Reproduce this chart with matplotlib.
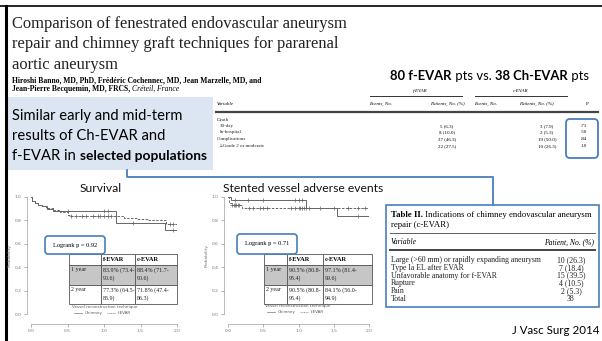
"""
Slide: f-EVAR vs chimney EVAR (J Vasc Surg 2014)
"""

import numpy as np
import matplotlib
matplotlib.use('Agg')
import matplotlib.pyplot as plt
from matplotlib.patches import Rectangle, FancyBboxPatch

# ---- data ----
title_lines = ['Comparison of fenestrated endovascular aneurysm',
               'repair and chimney graft techniques for pararenal',
               'aortic aneurysm']
author_lines = ['Hiroshi Banno, MD, PhD, Frédéric Cochennec, MD, Jean Marzelle, MD, and',
                'Jean-Pierre Becquemin, MD, FRCS,']
author_place = 'Créteil, France'

outcome_labels = ['Death', '30-day', 'In-hospital', 'Complications', '≥Grade 2 or moderate']
outcome_indent = [0, 1, 1, 0, 1]
fevar_patients = ['', '5 (6.3)', '8 (10.0)', '', '37 (46.3)', '22 (27.5)']
cevar_patients = ['', '3 (7.9)', '2 (5.3)', '', '19 (50.0)', '10 (26.3)']
p_values = ['', '.71', '.50', '', '.84', '1.0']

indication_labels = ['Large (>60 mm) or rapidly expanding aneurysm', 'Type Ia EL after EVAR',
                     'Unfavorable anatomy for f-EVAR', 'Rupture', 'Pain', 'Total']
indication_values = ['10 (26.3)', '7 (18.4)', '15 (39.5)', '4 (10.5)', '2 (5.3)', '38']

# survival (Kaplan-Meier step points)
surv_chimney_t = [0, 0.02, 0.05, 0.1, 0.15, 0.22, 0.3, 1.17, 1.84, 2.0]
surv_chimney_p = [1.0, 0.97, 0.95, 0.93, 0.92, 0.90, 0.884, 0.78, 0.718, 0.718]
surv_chimney_cens = [0.5, 1.0, 1.05, 1.4, 1.95]
surv_fevar_t = [0, 0.02, 0.05, 0.1, 0.15, 0.2, 0.3, 0.4, 0.5, 0.55, 1.27, 1.45, 1.6, 1.85, 2.0]
surv_fevar_p = [1.0, 0.97, 0.95, 0.935, 0.92, 0.905, 0.89, 0.87, 0.85, 0.839, 0.82, 0.81, 0.80, 0.773, 0.773]
surv_fevar_cens = [0.55, 0.62, 0.7, 0.75, 0.85, 0.92, 0.95, 1.0, 1.05, 1.1, 1.9, 1.95]

# stented vessel adverse events
stent_chimney_t = [0, 0.04, 1.1, 1.55, 2.0]
stent_chimney_p = [1.0, 0.971, 0.91, 0.841, 0.841]
stent_chimney_cens = [0.1, 0.28, 0.5, 0.95, 1.0, 1.05, 1.85]
stent_fevar_t = [0, 0.02, 0.05, 0.2, 2.0]
stent_fevar_p = [1.0, 0.95, 0.93, 0.905, 0.905]
stent_fevar_cens = [0.06, 0.08, 0.1, 0.12, 0.14, 0.16, 0.3, 0.35, 0.45, 0.5, 0.55,
                    0.9, 0.95, 1.0, 1.02, 1.05, 1.08, 1.1, 1.15, 1.3, 1.5, 1.7, 1.85, 1.95]

km_rows = ['1 year', '2 year']
surv_fevar_cells = ['83.9% (73.4-\n90.6)', '77.3% (64.5-\n85.9)']
surv_cevar_cells = ['88.4% (71.7-\n90.6)', '71.8% (47.4-\n86.3)']
stent_fevar_cells = ['90.5% (80.8-\n95.4)', '90.5% (80.8-\n95.4)']
stent_cevar_cells = ['97.1% (81.4-\n99.6)', '84.1% (56.0-\n94.9)']

km_xticks = [0.0, 0.5, 1.0, 1.5, 2.0]
km_yticks = [0.0, 0.2, 0.4, 0.6, 0.8, 1.0]

W, H = 602, 341
BLUE = '#4a7ebb'
SERIF = 'Liberation Serif'
SANS = 'Lato'
TS = 3.6   # small journal table text

fig = plt.figure(figsize=(W / 100, H / 100), dpi=100)
bg = fig.add_axes([0, 0, 1, 1])
bg.set_xlim(0, W)
bg.set_ylim(H, 0)
bg.axis('off')


def rich_text(ax, x, y, parts, **kw):
    """parts: list of (text, weight, style, size); all pieces share baseline y"""
    prev = None
    for s, w, st, sz in parts:
        if prev is None:
            prev = ax.text(x, y, s, fontweight=w, fontstyle=st, fontsize=sz,
                           ha='left', va='baseline', **kw)
        else:
            prev = ax.annotate(s, xy=(1, y), xycoords=(prev, 'data'), fontweight=w,
                               fontstyle=st, fontsize=sz, ha='left', va='baseline', **kw)
    return prev


def step_at(t, p, c):
    idx = np.searchsorted(np.asarray(t), c, side='right') - 1
    return np.asarray(p)[idx]


def km_axes(x0, x1, title, title_x):
    y_top, y_bot = 197, 314
    ax = fig.add_axes([x0 / W, 1 - y_bot / H, (x1 - x0) / W, (y_bot - y_top) / H])
    ax.set_xlim(0, 2)
    ax.set_ylim(0, 1)
    ax.patch.set_alpha(0)
    for s in ['top', 'right']:
        ax.spines[s].set_visible(False)
    ax.spines['left'].set_position(('outward', 3))
    ax.spines['bottom'].set_position(('outward', 7))
    for s in ['left', 'bottom']:
        ax.spines[s].set_color('#888888')
        ax.spines[s].set_linewidth(0.4)
    ax.set_xticks(km_xticks)
    ax.set_yticks(km_yticks)
    ax.set_xticklabels([f'{v:.1f}' for v in km_xticks])
    ax.set_yticklabels([f'{v:.1f}' for v in km_yticks])
    ax.tick_params(labelsize=3.2, colors='#777777', length=2, width=0.4, pad=2)
    ax.set_ylabel('Probability', fontsize=3.2, color='#777777', labelpad=2)
    bg.text(title_x, 188, title, fontsize=8.7, family=SANS, ha='center', va='center',
            color='#111111')
    return ax


def draw_km(ax, t1, p1, c1, t2, p2, c2):
    ax.step(t1, p1, where='post', color='#666666', lw=0.7)
    ax.step(t2, p2, where='post', color='#666666', lw=0.7, ls=(0, (2.5, 1.5)))
    ax.plot(c1, step_at(t1, p1, c1), '+', color='#666666', ms=2.5, mew=0.5, clip_on=False)
    ax.plot(c2, step_at(t2, p2, c2), '+', color='#666666', ms=2.5, mew=0.5, clip_on=False)


def km_table(ax, xe, ye, fcells, ccells):
    fills = ['white', '#c6c6c6', 'white']
    for r in range(3):
        for c in range(3):
            ax.add_patch(Rectangle((xe[c], ye[r]), xe[c + 1] - xe[c], ye[r + 1] - ye[r],
                                   facecolor=fills[r], edgecolor='#555555', lw=0.6))
    for c, s in enumerate(['f-EVAR', 'c-EVAR']):
        ax.text(xe[c + 1] + 2, (ye[0] + ye[1]) / 2, s, fontsize=4.6, family=SERIF,
                fontweight='bold', va='center', ha='left')
    for r in range(2):
        yy = ye[r + 1] + 2
        ax.text(xe[0] + 2, yy, km_rows[r], fontsize=4.3, family=SERIF, va='top', color='#222222')
        ax.text(xe[1] + 2, yy, fcells[r], fontsize=4.3, family=SERIF, va='top',
                linespacing=1.6, color='#222222')
        ax.text(xe[2] + 2, yy, ccells[r], fontsize=4.3, family=SERIF, va='top',
                linespacing=1.6, color='#222222')


def logrank_box(ax, x0, x1, y0, y1, label):
    ax.add_patch(FancyBboxPatch((x0, y0), x1 - x0, y1 - y0,
                                boxstyle='round,pad=0,rounding_size=3',
                                facecolor='white', edgecolor=BLUE, lw=1.2))
    ax.text((x0 + x1) / 2, (y0 + y1) / 2, label, fontsize=4.6, family=SERIF,
            ha='center', va='center')


def km_legend(ax, x, y):
    ax.text(x, y, 'Vessel reconstruction technique', fontsize=2.9, family='DejaVu Sans',
            color='#555555', va='center')
    ax.plot([x + 2, x + 10], [y + 6, y + 6], color='#777777', lw=0.5)
    ax.text(x + 13, y + 6, 'Chimney', fontsize=2.9, family='DejaVu Sans', color='#555555', va='center')
    ax.plot([x + 35, x + 43], [y + 6, y + 6], color='#777777', lw=0.5, ls=(0, (1.5, 1)))
    ax.text(x + 46, y + 6, 'f-EVAR', fontsize=2.9, family='DejaVu Sans', color='#555555', va='center')


# ---- slide frame ----
bg.plot([0, W], [5.5, 5.5], color='black', lw=1.2)
bg.plot([5.5, 5.5], [5.5, H], color='black', lw=2.2)

# ---- title & authors ----
for i, line in enumerate(title_lines):
    bg.text(12, 24 + i * 20.5, line, fontsize=11.9, family=SERIF, va='center', color='#222222')
bg.text(12, 80, author_lines[0], fontsize=5.5, family=SERIF, fontweight='bold', va='center')
rich_text(bg, 12, 91, [(author_lines[1] + ' ', 'bold', 'normal', 5.5),
                       (author_place, 'normal', 'italic', 5.5)],
          family=SERIF)

# ---- highlighted conclusion box ----
bg.add_patch(Rectangle((8, 97), 205, 73, facecolor='#dce6f2', edgecolor='none'))
bg.text(12, 116, 'Similar early and mid-term', fontsize=10.6, family=SANS, va='center')
bg.text(12, 136, 'results of Ch-EVAR and', fontsize=10.6, family=SANS, va='center')
rich_text(bg, 12, 160, [('f-EVAR in ', 'normal', 'normal', 10.6),
                        ('selected populations', 'bold', 'normal', 9.9)],
          family=SANS)

# connector line
bg.plot([127, 127, 493, 493], [170, 177, 177, 205], color=BLUE, lw=1.3)

# ---- outcome table ----
rich_text(bg, 390, 79.5, [('80 f-EVAR', 'bold', 'normal', 9.4), (' pts vs. ', 'normal', 'normal', 9.4),
                          ('38 Ch-EVAR', 'bold', 'normal', 9.4), (' pts', 'normal', 'normal', 9.4)],
          family=SANS)
bg.text(420, 91, 'f-EVAR', fontsize=TS, family=SERIF, fontstyle='italic', ha='center', va='center')
bg.text(521, 91, 'c-EVAR', fontsize=TS, family=SERIF, fontstyle='italic', ha='center', va='center')
bg.plot([370, 462], [96, 96], color='#333333', lw=0.7)
bg.plot([475, 567], [96, 96], color='#333333', lw=0.7)
hdr_y = 104
bg.text(217, hdr_y, 'Variable', fontsize=TS, family=SERIF, fontstyle='italic', va='center')
bg.text(381, hdr_y, 'Events, No.', fontsize=TS, family=SERIF, fontstyle='italic', ha='center', va='center')
bg.text(447, hdr_y, 'Patients, No. (%)', fontsize=TS, family=SERIF, fontstyle='italic', ha='center', va='center')
bg.text(486, hdr_y, 'Events, No.', fontsize=TS, family=SERIF, fontstyle='italic', ha='center', va='center')
bg.text(536, hdr_y, 'Patients, No. (%)', fontsize=TS, family=SERIF, fontstyle='italic', ha='center', va='center')
bg.text(587, hdr_y, 'P', fontsize=TS, family=SERIF, ha='center', va='center')
bg.plot([216, 598], [112, 112], color='#444444', lw=1.6)

row_y = [120, 126, 132, 139, 146]
for i, lab in enumerate(outcome_labels):
    bg.text(217 + 3 * outcome_indent[i], row_y[i], lab, fontsize=TS, family=SERIF,
            va='center', color='#222222')
val_rows = [0, 1, 2, 3, 3, 4]
for i in range(1, len(p_values)):
    if p_values[i] == '':
        continue
    y = row_y[val_rows[i]]
    bg.text(447, y, fevar_patients[i], fontsize=TS, family=SERIF, ha='center', va='center')
    bg.text(547, y, cevar_patients[i], fontsize=TS, family=SERIF, ha='center', va='center')
    bg.text(584, y, p_values[i], fontsize=TS, family=SERIF, ha='center', va='center')
bg.add_patch(FancyBboxPatch((566, 119), 32, 39, boxstyle='round,pad=0,rounding_size=4',
                            facecolor='none', edgecolor=BLUE, lw=1.3))

# ---- Table II ----
bg.add_patch(Rectangle((386, 205), 213, 102, facecolor='white', edgecolor=BLUE, lw=1.2))
rich_text(bg, 391, 217, [('Table II.', 'bold', 'normal', 6.3),
                         (' Indications of chimney endovascular aneurysm', 'normal', 'normal', 6.3)],
          family=SERIF)
bg.text(391, 225, 'repair (c-EVAR)', fontsize=6.3, family=SERIF, va='center')
bg.plot([390, 595], [233, 233], color='#444444', lw=0.6)
bg.text(391, 242, 'Variable', fontsize=5.5, family=SERIF, fontstyle='italic', va='center')
bg.text(594, 242, 'Patient, No. (%)', fontsize=5.5, family=SERIF, fontstyle='italic',
        ha='right', va='center')
bg.plot([390, 595], [250, 250], color='#444444', lw=1.4)
for i, (lab, val) in enumerate(zip(indication_labels, indication_values)):
    y = 260 + i * 7.8
    bg.text(391, y, lab, fontsize=5.6, family=SERIF, va='center', color='#222222')
    bg.text(571, y, val, fontsize=5.6, family=SERIF, ha='center', va='center', color='#222222')

bg.text(556, 330, 'J Vasc Surg 2014', fontsize=8.3, family=SANS, ha='center', va='center')

# ---- Kaplan-Meier panels ----
ax1 = km_axes(31, 177, 'Survival', 101)
draw_km(ax1, surv_chimney_t, surv_chimney_p, surv_chimney_cens,
        surv_fevar_t, surv_fevar_p, surv_fevar_cens)
ax2 = km_axes(228, 369, 'Stented vessel adverse events', 303)
draw_km(ax2, stent_chimney_t, stent_chimney_p, stent_chimney_cens,
        stent_fevar_t, stent_fevar_p, stent_fevar_cens)

fg = fig.add_axes([0, 0, 1, 1], zorder=5)
fg.set_xlim(0, W)
fg.set_ylim(H, 0)
fg.axis('off')
km_table(fg, [69, 101, 135, 177], [254, 265, 285, 304], surv_fevar_cells, surv_cevar_cells)
km_table(fg, [264, 287, 323, 372], [254, 265, 285, 304], stent_fevar_cells, stent_cevar_cells)
logrank_box(fg, 45, 105, 236, 254, 'Logrank p = 0.92')
logrank_box(fg, 237, 297, 234, 254, 'Logrank p = 0.71')
km_legend(fg, 72, 307)
km_legend(fg, 265, 306)

fig.savefig('out.png', dpi=100)
